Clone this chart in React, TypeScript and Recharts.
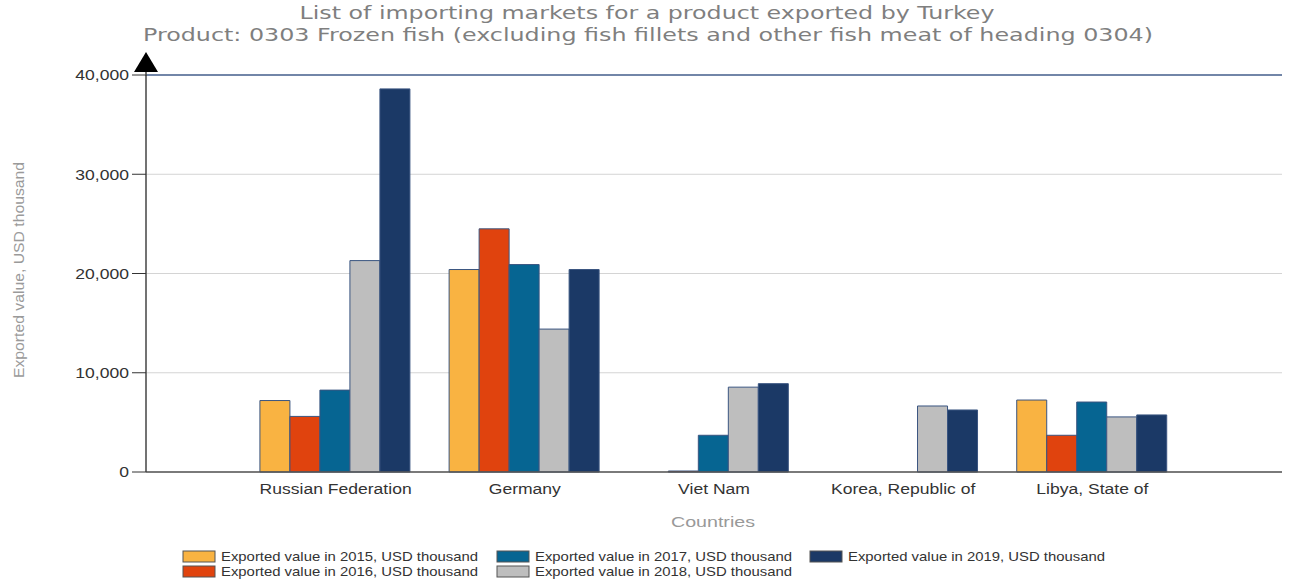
import { BarChart, Bar, XAxis, YAxis, CartesianGrid, ReferenceLine } from 'recharts';

const countries = ['Russian Federation', 'Germany', 'Viet Nam', 'Korea, Republic of', 'Libya, State of'];
const years = ['2015', '2016', '2017', '2018', '2019'];
const v2015 = [7200, 20400, 0, 0, 7250];
const v2016 = [5600, 24500, 100, 0, 3700];
const v2017 = [8250, 20900, 3700, 0, 7050];
const v2018 = [21300, 14400, 8550, 6650, 5550];
const v2019 = [38600, 20400, 8900, 6250, 5750];
const yTicks = [0, 10000, 20000, 30000, 40000];

const colors = ['#F9B342', '#E0430E', '#066592', '#BEBEBE', '#1B3966'];
const seriesValues = [v2015, v2016, v2017, v2018, v2019];

const series = years.map((yr, i) => ({
  key: 'y' + yr,
  name: `Exported value in ${yr}, USD thousand`,
  color: colors[i],
  values: seriesValues[i],
}));

const data = countries.map((country, i) => {
  const row: Record<string, string | number> = { country };
  series.forEach((s) => (row[s.key] = s.values[i]));
  return row;
});

const W = 1294;
const H = 582;
const FONT = 'Liberation Sans, Arial, sans-serif';
const STRETCH = 1.17;

function XTick({ x, y, payload }: any) {
  return (
    <text
      transform={`translate(${x},${y}) scale(${STRETCH},1)`}
      textAnchor="middle"
      dy="0.71em"
      fontFamily={FONT}
      fontSize={15}
      fill="#333"
    >
      {payload.value}
    </text>
  );
}

function YTick({ x, y, payload }: any) {
  return (
    <text
      transform={`translate(${x},${y}) scale(${STRETCH},1)`}
      textAnchor="end"
      dy="0.355em"
      fontFamily={FONT}
      fontSize={15}
      fill="#333"
    >
      {Number(payload.value).toLocaleString('en-US')}
    </text>
  );
}

export default function App() {
  return (
    <div style={{ position: 'absolute', left: 0, top: 0, width: W, height: H, background: '#fff' }}>
      <BarChart
        width={W}
        height={H}
        data={data}
        margin={{ top: 75, right: 12, bottom: 50, left: 0 }}
        barCategoryGap="10%"
        barGap={0}
      >
        <CartesianGrid horizontal vertical={false} stroke="#d4d4d4" />
        <XAxis
          dataKey="country"
          padding={{ left: 95, right: 95 }}
          height={60}
          tickLine={false}
          tickMargin={5}
          axisLine={{ stroke: '#555', strokeWidth: 1.5 }}
          tick={<XTick />}
          interval={0}
        />
        <YAxis
          width={146}
          domain={[0, 40000]}
          ticks={yTicks}
          tickSize={14}
          tickMargin={3}
          tickLine={{ stroke: '#333' }}
          axisLine={{ stroke: '#444', strokeWidth: 1.5 }}
          tick={<YTick />}
        />
        <YAxis
          yAxisId="right"
          orientation="right"
          width={0}
          domain={[0, 40000]}
          tick={false}
          tickLine={false}
          axisLine={{ stroke: '#4a6592', strokeWidth: 1.5 }}
        />
        <ReferenceLine y={40000} stroke="#4a6592" strokeWidth={1.5} />
        {series.map((s) => (
          <Bar
            key={s.key}
            dataKey={s.key}
            name={s.name}
            fill={s.color}
            stroke="#3a5580"
            strokeWidth={1}
            isAnimationActive={false}
          />
        ))}
      </BarChart>
      <svg
        width={W}
        height={H}
        style={{ position: 'absolute', left: 0, top: 0, pointerEvents: 'none' }}
      >
        <text
          x={647}
          y={19}
          textAnchor="middle"
          fontFamily="DejaVu Sans, Verdana, sans-serif"
          fontSize={17}
          fill="#7f7f7f"
          textLength={695}
          lengthAdjust="spacingAndGlyphs"
        >
          List of importing markets for a product exported by Turkey
        </text>
        <text
          x={648}
          y={41}
          textAnchor="middle"
          fontFamily="DejaVu Sans, Verdana, sans-serif"
          fontSize={17}
          fill="#7f7f7f"
          textLength={1010}
          lengthAdjust="spacingAndGlyphs"
        >
          Product: 0303 Frozen fish (excluding fish fillets and other fish meat of heading 0304)
        </text>
        <text
          transform="translate(24,270) rotate(-90)"
          textAnchor="middle"
          fontFamily={FONT}
          fontSize={15}
          fill="#9a9a9a"
          textLength={216}
          lengthAdjust="spacingAndGlyphs"
        >
          Exported value, USD thousand
        </text>
        <text
          x={713}
          y={527}
          textAnchor="middle"
          fontFamily={FONT}
          fontSize={15}
          fill="#999"
          textLength={84}
          lengthAdjust="spacingAndGlyphs"
        >
          Countries
        </text>
        <line x1={146} y1={70} x2={146} y2={76} stroke="#444" strokeWidth={1.5} />
        <polygon points="146,52 134,72 158,72" fill="#000" />
        {series.map((s, i) => {
          const x = [183, 497, 810][Math.floor(i / 2)];
          const y = [551, 566][i % 2];
          return (
            <g key={s.key}>
              <rect x={x} y={y} width={32} height={11} fill={s.color} stroke="#555" strokeWidth={1} />
              <text
                x={x + 38}
                y={y + 10}
                fontFamily={FONT}
                fontSize={13}
                fill="#333"
                textLength={257}
                lengthAdjust="spacingAndGlyphs"
              >
                {s.name}
              </text>
            </g>
          );
        })}
      </svg>
    </div>
  );
}
